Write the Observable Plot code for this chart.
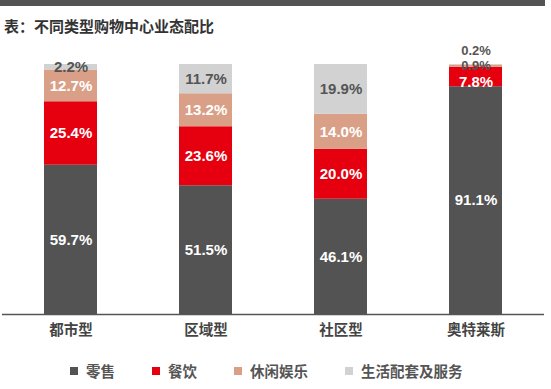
<!DOCTYPE html>
<html><head><meta charset="utf-8">
<script src="https://cdn.jsdelivr.net/npm/d3@7"></script>
<script src="https://cdn.jsdelivr.net/npm/@observablehq/plot@0.6"></script>
<style>
html,body{margin:0;padding:0;background:#fff;}
#wrap{position:relative;width:551px;height:389px;overflow:hidden;font-family:"Noto Sans CJK SC","Noto Sans",sans-serif;}
#band{position:absolute;left:0;top:0;width:545px;height:6px;background:#545454;}
#title{position:absolute;left:4px;top:16px;font-size:15px;font-weight:bold;color:#333;line-height:20px;white-space:nowrap;}
#chart{position:absolute;left:0;top:0;}
#legend{position:absolute;left:70px;top:361px;display:flex;align-items:center;font-size:14.5px;font-weight:bold;color:#555;line-height:20px;white-space:nowrap;}
#legend .item{display:flex;align-items:center;margin-right:37px;}
#legend .sw{width:8px;height:8px;margin-right:8px;}
</style></head>
<body><div id="wrap">
<div id="band"></div>
<div id="chart"></div>
<div id="title">表：不同类型购物中心业态配比</div>
<div id="legend"></div>
</div>
<script>
const categories = ["都市型", "区域型", "社区型", "奥特莱斯"];
const series = ["零售", "餐饮", "休闲娱乐", "生活配套及服务"];
const retail   = [59.7, 51.5, 46.1, 91.1];
const food     = [25.4, 23.6, 20.0, 7.8];
const leisure  = [12.7, 13.2, 14.0, 0.9];
const services = [2.2, 11.7, 19.9, 0.2];
const colors = ["#535353", "#e6000f", "#d9a087", "#d2d2d2"];
const labelColors = ["#fff", "#fff", "#fff", "#555"];

const values = [retail, food, leisure, services];
const rows = [];
categories.forEach((c, i) => {
  let acc = 0;
  series.forEach((s, j) => {
    const v = values[j][i];
    const next = j < series.length - 1 ? values[j + 1][i] : null;
    rows.push({cat: c, series: s, si: j, value: v, y1: acc, y2: acc + v, mid: acc + v / 2,
               crowded: next !== null && next < 1});
    acc += v;
  });
});

const fmt = d => d.value.toFixed(1) + "%";
const big = rows.filter(d => d.value >= 1 && !d.crowded);
const bigCrowded = rows.filter(d => d.value >= 1 && d.crowded);
const smallTop = rows.filter(d => d.value < 1 && d.si === 3);
const smallMid = rows.filter(d => d.value < 1 && d.si !== 3);
const numFont = "'Liberation Sans', Arial, sans-serif";

const chart = Plot.plot({
  width: 551,
  height: 350,
  marginTop: 64,
  marginBottom: 36,
  marginLeft: 2,
  marginRight: 7,
  style: {fontFamily: "'Noto Sans CJK SC', 'Liberation Sans', sans-serif", background: "transparent"},
  x: {domain: categories, paddingInner: 0.608, paddingOuter: 0.31, label: null},
  y: {domain: [0, 100], axis: null},
  color: {domain: series, range: colors},
  marks: [
    Plot.barY(rows, {x: "cat", y1: "y1", y2: "y2", fill: "series"}),
    Plot.ruleY([0], {stroke: "#555", strokeWidth: 1.5}),
    Plot.axisX({tickSize: 0, tickPadding: 10, fontSize: 14.5, fontWeight: "bold", fill: "#444", label: null}),
    Plot.text(smallMid, {x: "cat", y: "mid", text: fmt, dy: 0, fill: labelColors[3], fontSize: 13, fontWeight: "bold", fontFamily: numFont}),
    Plot.text(big, {x: "cat", y: "mid", text: fmt, fill: d => labelColors[d.si], fontSize: 15, fontWeight: "bold", fontFamily: numFont}),
    Plot.text(bigCrowded, {x: "cat", y: "mid", text: fmt, dy: 5, fill: d => labelColors[d.si], fontSize: 15, fontWeight: "bold", fontFamily: numFont}),
    Plot.text(smallTop, {x: "cat", y: "y2", text: fmt, dy: -14, fill: labelColors[3], fontSize: 13, fontWeight: "bold", fontFamily: numFont})
  ]
});
document.getElementById("chart").appendChild(chart);

const legend = document.getElementById("legend");
series.forEach((s, j) => {
  const it = document.createElement("div");
  it.className = "item";
  const sw = document.createElement("div");
  sw.className = "sw";
  sw.style.background = colors[j];
  const t = document.createElement("span");
  t.textContent = s;
  it.appendChild(sw); it.appendChild(t);
  legend.appendChild(it);
});
</script>
</body></html>
